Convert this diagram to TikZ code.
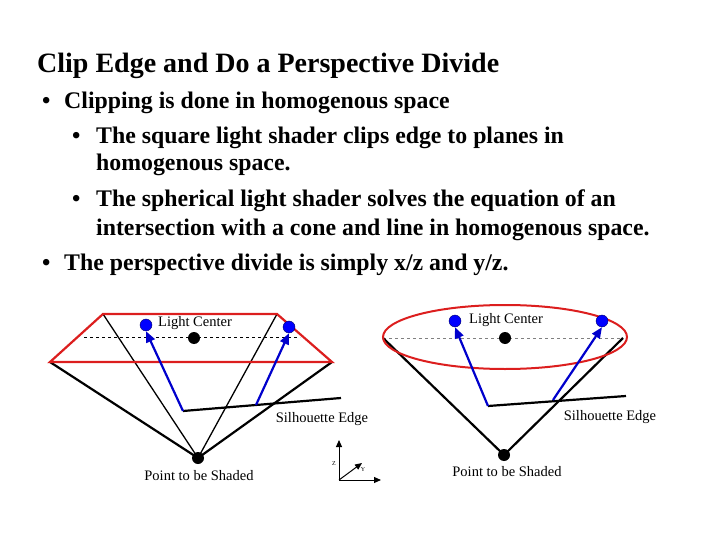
\documentclass[tikz,border=0pt]{standalone}
\usepackage{fontspec}
\setmainfont{Liberation Serif}
\usetikzlibrary{arrows.meta}
\begin{document}
\begin{tikzpicture}[x=1pt,y=-1pt,
  txt/.style={anchor=base west,inner sep=0,font=\fontsize{23.8}{26}\selectfont\bfseries},
  lbl/.style={inner sep=0,font=\fontsize{14.5}{16}\selectfont},
  blk/.style={line width=2.2pt},
  thin/.style={line width=1.3pt},
  red/.style={draw={rgb,255:red,220;green,30;blue,30},line width=2.2pt},
  bluedot/.style={circle,fill=blue,draw=black!60!blue,minimum size=12pt,inner sep=0},
  blackdot/.style={circle,fill=black,minimum size=12pt,inner sep=0},
  barrow/.style={draw=blue!80!black,line width=2.2pt,-{Triangle[length=11pt,width=9pt]}}]
\useasboundingbox (0,0) rectangle (720,540);
\node[anchor=base west,inner sep=0,font=\fontsize{28}{30}\selectfont\bfseries] (title) at (37,73) {Clip Edge and Do a Perspective Divide};
\node[txt] (d1) at (42,109) {•};
\node[txt] (b1) at (64,109) {Clipping is done in homogenous space};
\node[txt] (d2) at (72,144) {•};
\node[txt] (b2) at (96,144) {The square light shader clips edge to planes in};
\node[txt] (b2b) at (96,171) {homogenous space.};
\node[txt] (d3) at (72,207) {•};
\node[txt] (b3) at (96,207) {The spherical light shader solves the equation of an};
\node[txt] (b3b) at (96,236) {intersection with a cone and line in homogenous space.};
\node[txt] (d4) at (42,270) {•};
\node[txt] (b4) at (64,270) {The perspective divide is simply x/z and y/z.};
% left diagram
\coordinate (A) at (198,458);
\coordinate (TL) at (103,314); \coordinate (TR) at (277,314);
\coordinate (ML) at (50,362); \coordinate (MR) at (332,362);
\draw[dashed,line width=0.6pt] (84,337) -- (300,337);
\draw[thin] (TL) -- (A) -- (TR);
\draw[blk] (ML) -- (A) -- (MR);
\draw[red] (ML) -- (TL) -- (TR) -- (MR) -- cycle;
\coordinate (S1) at (183,411); \coordinate (S2) at (341,398);
\draw[blk] (S1) -- (S2);
\node[bluedot] (L1) at (146,325) {};
\node[bluedot] (L2) at (289,327) {};
\node[blackdot] (C1) at (194,338) {};
\node[blackdot] (P1) at (198,458) {};
\draw[barrow] (S1) -- (L1.south);
\coordinate (M1) at (256,405);
\draw[barrow] (M1) -- (L2.south);
\node[lbl] (lc1) at (195,323) {Light Center};
\node[lbl] (se1) at (322,419) {Silhouette Edge};
\node[lbl] (ps1) at (199,476) {Point to be Shaded};
% axes
\coordinate (O) at (339,480);
\coordinate (Z) at (339,440); \coordinate (X) at (381,480); \coordinate (Y) at (362,463);
\draw[line width=1pt,-{Triangle[length=7pt,width=6pt]}] (O) -- (Z);
\draw[line width=1pt,-{Triangle[length=7pt,width=6pt]}] (O) -- (X);
\draw[line width=1pt,-{Triangle[length=7pt,width=6pt]}] (O) -- (Y);
\node[inner sep=0,font=\fontsize{6}{7}\selectfont] (zl) at (334,464) {Z};
\node[inner sep=0,font=\fontsize{6}{7}\selectfont] (yl) at (363,470) {Y};
% right diagram
\coordinate (A2) at (504,455);
\coordinate (EL) at (383,338); \coordinate (ER) at (623,338);
\draw[dashed,gray,line width=0.5pt] (EL) -- (ER);
\draw[blk] (EL) -- (A2) -- (ER);
\draw[red,line width=2pt] (505,337) ellipse [x radius=122, y radius=32];
\coordinate (S3) at (488,406); \coordinate (S4) at (626,396);
\draw[blk] (S3) -- (S4);
\node[bluedot] (L3) at (455,321) {};
\node[bluedot] (L4) at (602,321) {};
\node[blackdot] (C2) at (505,338) {};
\node[blackdot] (P2) at (504,455) {};
\draw[barrow] (S3) -- (L3.south);
\coordinate (M2) at (553,400);
\draw[barrow] (M2) -- (L4.south);
\node[lbl] (lc2) at (506,320) {Light Center};
\node[lbl] (se2) at (610,417) {Silhouette Edge};
\node[lbl] (ps2) at (507,472) {Point to be Shaded};
\end{tikzpicture}
\end{document}
